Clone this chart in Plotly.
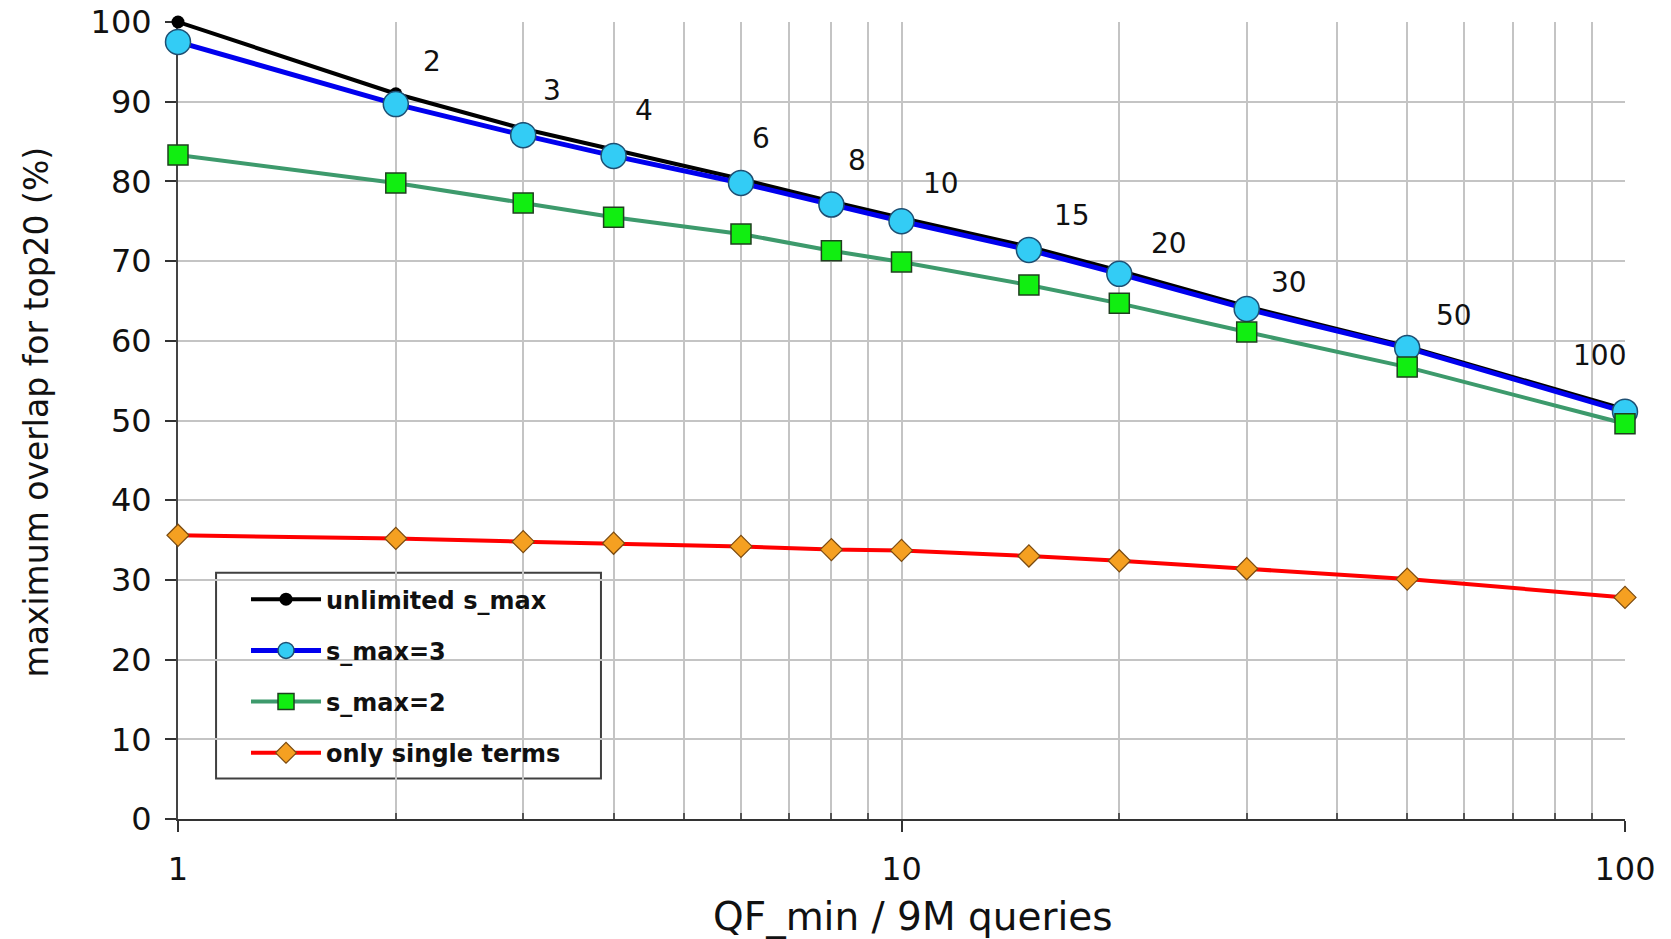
import numpy as np
import plotly.graph_objects as go

# ---- data ----
qf_min = [1, 2, 3, 4, 6, 8, 10, 15, 20, 30, 50, 100]
unlimited_smax = [100.0, 91.0, 86.6, 84.0, 80.3, 77.5, 75.4, 71.8, 68.8, 64.3, 59.3, 51.4]
smax3 = [97.5, 89.7, 85.8, 83.2, 79.8, 77.1, 75.0, 71.4, 68.4, 64.0, 59.1, 51.1]
smax2 = [83.3, 79.8, 77.3, 75.5, 73.4, 71.3, 69.9, 67.0, 64.7, 61.1, 56.7, 49.6]
single_terms = [35.6, 35.2, 34.8, 34.6, 34.2, 33.8, 33.7, 33.0, 32.4, 31.4, 30.1, 27.8]
point_labels = ["2", "3", "4", "6", "8", "10", "15", "20", "30", "50", "100"]
label_at = [2, 3, 4, 6, 8, 10, 15, 20, 30, 50, 100]

x_major = [1, 10, 100]
x_minor = [2, 3, 4, 5, 6, 7, 8, 9, 20, 30, 40, 50, 60, 70, 80, 90]

# label offsets (px) relative to the s_max=3 point
label_dx = [36, 29, 30, 20, 26, 39, 43, 50, 42, 47, -26]
label_dy = [43, 45, 45, 44, 44, 38, 34, 30, 26, 32, 56]

FONT = "DejaVu Sans, Liberation Sans, Arial, sans-serif"
GRID = "#c4c4c4"

fig = go.Figure()
fig.add_trace(go.Scatter(
    x=qf_min, y=unlimited_smax, name="unlimited s_max", mode="lines+markers",
    line=dict(color="#000000", width=4),
    marker=dict(symbol="circle", size=13, color="#000000"),
    legendgroup="a", cliponaxis=False))
fig.add_trace(go.Scatter(
    x=qf_min, y=smax3, name="s_max=3", mode="lines+markers",
    line=dict(color="#0000ee", width=5),
    marker=dict(symbol="circle", size=25, color="#33ccf5",
                line=dict(color="#1d4f73", width=1.5)),
    legendgroup="b", cliponaxis=False))
fig.add_trace(go.Scatter(
    x=qf_min, y=smax2, name="s_max=2", mode="lines+markers",
    line=dict(color="#3d9a6c", width=4),
    marker=dict(symbol="square", size=20, color="#11ee11",
                line=dict(color="#1f3f1f", width=1.5)),
    legendgroup="c", cliponaxis=False))
fig.add_trace(go.Scatter(
    x=qf_min, y=single_terms, name="only single terms", mode="lines+markers",
    line=dict(color="#ff0000", width=4),
    marker=dict(symbol="diamond", size=17, color="#f5a021",
                line=dict(color="#7a4a10", width=1.2)),
    legendgroup="d", cliponaxis=False))

annotations = []
for lab, xv, dx, dy in zip(point_labels, label_at, label_dx, label_dy):
    yv = smax3[qf_min.index(xv)]
    annotations.append(dict(
        x=np.log10(xv), y=yv, xref="x", yref="y", text=lab, showarrow=False,
        xshift=dx, yshift=dy, xanchor="center", yanchor="middle",
        font=dict(family=FONT, size=28, color="#111111")))

annotations.append(dict(
    x=0.5, y=0, xref="paper", yref="paper", text="QF_min / 9M queries",
    showarrow=False, xshift=11, yshift=-97, xanchor="center", yanchor="middle",
    font=dict(family=FONT, size=39, color="#111111")))
annotations.append(dict(
    x=0, y=0.5, xref="paper", yref="paper", text="maximum overlap for top20 (%)",
    showarrow=False, xshift=-142, yshift=8, textangle=-90, xanchor="center", yanchor="middle",
    font=dict(family=FONT, size=33, color="#111111")))

# legend frame (decoration)
shapes = [dict(type="rect", xref="paper", yref="paper",
               x0=0.0263, x1=0.2923, y0=0.0508, y1=0.3091,
               line=dict(color="#404040", width=2), fillcolor="white", layer="below")]

fig.update_layout(
    width=1671, height=939,
    margin=dict(l=178, r=46, t=22, b=120, autoexpand=False),
    paper_bgcolor="white", plot_bgcolor="rgba(0,0,0,0)",
    font=dict(family=FONT, color="#111111"),
    annotations=annotations,
    shapes=shapes,
    showlegend=True,
    legend=dict(
        x=0.047, y=0.3035, xanchor="left", yanchor="top",
        bgcolor="rgba(0,0,0,0)", borderwidth=0,
        font=dict(family=FONT, size=24, color="#111111", weight="bold"),
        traceorder="grouped", tracegroupgap=17,
        itemsizing="trace", itemwidth=70),
    xaxis=dict(
        type="log", range=[0, 2], automargin=False,
        tickvals=x_major, ticktext=[str(v) for v in x_major],
        ticks="outside", ticklen=11, tickwidth=1.5, tickcolor="#333333",
        tickfont=dict(family=FONT, size=32, color="#111111"),
        ticklabelstandoff=10,
        showgrid=True, gridcolor=GRID, gridwidth=2,
        minor=dict(tickvals=x_minor, showgrid=True, gridcolor=GRID, gridwidth=2,
                   ticks="inside", ticklen=6, tickcolor="#555555", tickwidth=1.5),
        showline=True, linecolor="#333333", linewidth=2,
        zeroline=False, layer="below traces"),
    yaxis=dict(
        range=[0, 100], dtick=10, tick0=0, automargin=False,
        ticks="outside", ticklen=11, tickwidth=1.5, tickcolor="#333333",
        tickfont=dict(family=FONT, size=32, color="#111111"),
        ticklabelstandoff=7,
        showgrid=True, gridcolor=GRID, gridwidth=2,
        showline=True, linecolor="#444444", linewidth=2,
        zeroline=False, layer="below traces"),
)

fig.write_html("out.html", config={"displayModeBar": False},
               post_script="document.body.style.margin='0';document.body.style.overflow='hidden';")
